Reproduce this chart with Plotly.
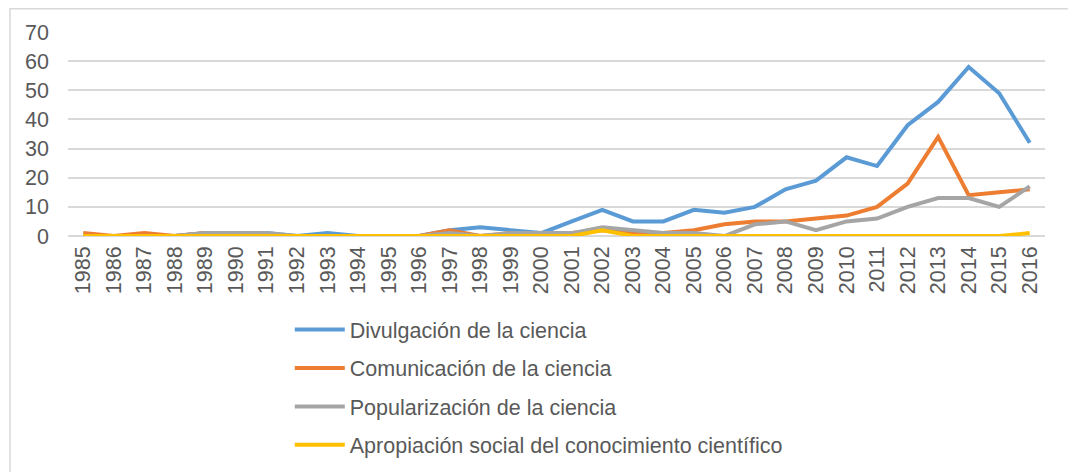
import plotly.graph_objects as go

years = [str(y) for y in range(1985, 2017)]
divulgacion = [0, 0, 0, 0, 1, 1, 1, 0, 1, 0, 0, 0, 2, 3, 2, 1, 5, 9, 5, 5, 9, 8, 10, 16, 19, 27, 24, 38, 46, 58, 49, 32]
comunicacion = [1, 0, 1, 0, 1, 1, 0, 0, 0, 0, 0, 0, 2, 0, 1, 1, 1, 2, 1, 1, 2, 4, 5, 5, 6, 7, 10, 18, 34, 14, 15, 16]
popularizacion = [0, 0, 0, 0, 1, 1, 1, 0, 0, 0, 0, 0, 1, 0, 1, 1, 1, 3, 2, 1, 1, 0, 4, 5, 2, 5, 6, 10, 13, 13, 10, 17]
apropiacion = [0, 0, 0, 0, 0, 0, 0, 0, 0, 0, 0, 0, 0, 0, 0, 0, 0, 2, 0, 0, 0, 0, 0, 0, 0, 0, 0, 0, 0, 0, 0, 1]
names = ["Divulgación de la ciencia", "Comunicación de la ciencia",
         "Popularización de la ciencia", "Apropiación social del conocimiento científico"]
colors = ["#5B9BD5", "#ED7D31", "#A5A5A5", "#FFC000"]
yticks = [0, 10, 20, 30, 40, 50, 60, 70]

FONT = "Liberation Sans, Arial, sans-serif"
TXT = "#595959"
FS = 21.5

fig = go.Figure()
for i, (nm, vals) in enumerate(zip(names, [divulgacion, comunicacion, popularizacion, apropiacion])):
    fig.add_trace(go.Scatter(x=years, y=vals, name=nm, mode="lines",
                             line=dict(color=colors[i], width=4),
                             legendgroup=f"g{i}"))

fig.update_layout(
    width=1068, height=464,
    margin=dict(l=60, r=31, t=24, b=236, autoexpand=False),
    paper_bgcolor="white", plot_bgcolor="white",
    font=dict(family=FONT, size=FS, color=TXT),
    showlegend=True,
    legend=dict(x=0.227, y=-0.358, xanchor="left", yanchor="top",
                orientation="v", itemwidth=50, tracegroupgap=7.5,
                font=dict(family=FONT, size=FS, color=TXT),
                bgcolor="rgba(0,0,0,0)"),
    xaxis=dict(type="category", range=[-0.5, 31.5], tickangle=-90,
               showgrid=False, showline=False, ticks="", zeroline=False,
               ticklabelstandoff=5, automargin=False,
               tickfont=dict(family=FONT, size=FS, color=TXT)),
    yaxis=dict(range=[0, 70], tickvals=yticks, showgrid=True,
               gridcolor="#D9D9D9", gridwidth=1.5, zeroline=True,
               zerolinecolor="#D9D9D9", zerolinewidth=1.5,
               showline=False, ticks="", ticklabelstandoff=18, automargin=False,
               tickfont=dict(family=FONT, size=FS, color=TXT)),
    shapes=[dict(type="rect", xref="paper", yref="paper",
                 x0=-0.0594, x1=1.0256, y0=-1.3, y1=1.114,
                 line=dict(color="#D9D9D9", width=1.5), layer="below")],
)

fig.write_html("out.html")
